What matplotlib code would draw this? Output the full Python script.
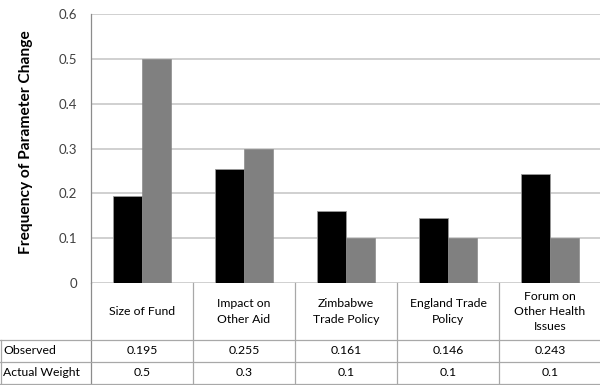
import matplotlib.pyplot as plt
from matplotlib import transforms
import numpy as np

categories = ["Size of Fund", "Impact on\nOther Aid", "Zimbabwe\nTrade Policy",
              "England Trade\nPolicy", "Forum on\nOther Health\nIssues"]
observed = [0.195, 0.255, 0.161, 0.146, 0.243]
actual_weight = [0.5, 0.3, 0.1, 0.1, 0.1]
series_names = ["Observed", "Actual Weight"]
yticks = [0, 0.1, 0.2, 0.3, 0.4, 0.5, 0.6]

W, H = 600, 385
fig = plt.figure(figsize=(W / 100, H / 100), dpi=100)
plt.rcParams['font.family'] = ['Lato', 'DejaVu Sans']

# plot area in pixels: left 91, right 601, top 14, bottom 283
ax = fig.add_axes([91 / W, 1 - 283 / H, 510 / W, 269 / H])
ax.set_xlim(0, 5)
ax.set_ylim(0, 0.6)

x = np.arange(len(categories)) + 0.5
bw = 0.285
ax.bar(x - bw / 2, observed, bw, color='black', edgecolor='#9a9a9a', linewidth=0.6, zorder=3)
ax.bar(x + bw / 2, actual_weight, bw, color='#808080', edgecolor='#808080', linewidth=0.4, zorder=3)

ax.set_yticks(yticks)
ax.set_yticklabels([f"{v:g}" for v in yticks], color='#404040', fontsize=9.5)
ax.yaxis.grid(True, color='#c4c4c4', linewidth=1.1, zorder=0)
ax.tick_params(axis='y', length=0, pad=10)
ax.set_xticks([])
for s in ['top', 'right', 'bottom']:
    ax.spines[s].set_visible(False)
ax.spines['left'].set_color('#8c8c8c')
ax.spines['left'].set_linewidth(0.9)

fig.text(26 / W, 1 - 142 / H, "Frequency of Parameter Change", rotation=90,
         ha='center', va='center', fontsize=11.2, fontweight='bold', color='black')

# data table below the plot
tr = transforms.blended_transform_factory(ax.transData, ax.transAxes)
row_edges = [0, -57 / 269, -79 / 269, -101 / 269]
left_edge = -91 / 102
lc = '#a8a8a8'
for i in range(len(categories) + 1):
    ax.plot([i, i], [0, row_edges[-1]], transform=tr, color=lc if i else '#8c8c8c',
            lw=0.9, clip_on=False)
ax.plot([left_edge + 0.006, left_edge + 0.006], [row_edges[1], row_edges[-1]], transform=tr,
        color=lc, lw=0.9, clip_on=False)
for y in row_edges[1:]:
    ax.plot([left_edge, 5], [y, y], transform=tr, color=lc, lw=0.9, clip_on=False)

for xi, lab in zip(x, categories):
    ax.text(xi, (row_edges[0] + row_edges[1]) / 2, lab, transform=tr, ha='center', va='center',
            fontsize=8.8, linespacing=1.5, color='black')

rows = [observed, actual_weight]
for r, (name, vals) in enumerate(zip(series_names, rows)):
    yc = (row_edges[r + 1] + row_edges[r + 2]) / 2
    ax.text(left_edge + 0.03, yc, name, transform=tr, ha='left', va='center',
            fontsize=8.8, color='black')
    for xi, v in zip(x, vals):
        ax.text(xi, yc, f"{v:g}", transform=tr, ha='center', va='center',
                fontsize=8.8, color='black')

fig.savefig("out.png", dpi=100)
